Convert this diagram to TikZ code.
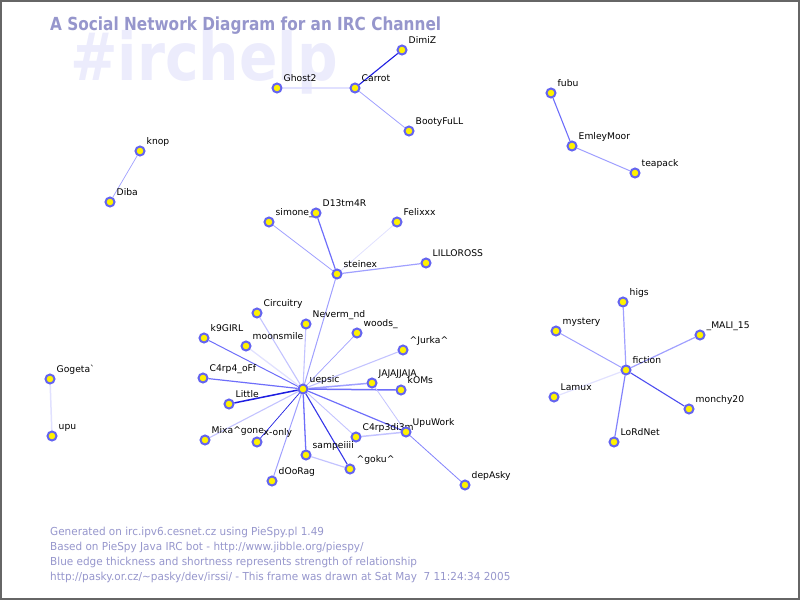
\documentclass[tikz,border=0pt]{standalone}
\usepackage{fontspec}
\setmainfont{DejaVu Sans}
\usetikzlibrary{backgrounds}

\definecolor{titlecol}{RGB}{150,150,204}
\definecolor{watercol}{RGB}{236,236,252}
\definecolor{ringcol}{RGB}{100,100,240}
\definecolor{edgeA}{RGB}{225,225,255}
\definecolor{edgeB}{RGB}{195,195,255}
\definecolor{edgeC}{RGB}{160,160,255}
\definecolor{edgeD}{RGB}{110,110,250}
\definecolor{edgeE}{RGB}{30,30,225}

\begin{document}
\begin{tikzpicture}[x=1pt,y=-1pt,
  nick/.style={circle,fill=yellow,draw=ringcol,line width=2pt,minimum size=9pt,inner sep=0pt},
  lbl/.style={anchor=base west,inner sep=0pt,font=\fontsize{9.2}{10}\selectfont,xshift=2.6pt,yshift=2.6pt},
  faint/.style={draw=edgeA,line width=1.3pt},
  light/.style={draw=edgeB,line width=1.1pt},
  mid/.style={draw=edgeC,line width=1pt},
  strong/.style={draw=edgeD,line width=1.1pt},
  dark/.style={draw=edgeE,line width=1.1pt},
  foot/.style={anchor=base west,inner sep=0pt,text=titlecol}]
  \useasboundingbox (0,0) rectangle (800,600);
  \draw[line width=2pt,black!60] (1,1) rectangle (799,599);

           % headline
           \node[anchor=base west,inner sep=0pt,text=titlecol] (title) at (50,30)
             {\scalebox{0.85}[1]{\fontsize{18}{18}\selectfont\bfseries A Social Network Diagram for an IRC Channel}};

           % nicks, top
           \node[nick,label={[lbl]north east:Ghost2}] (Ghost2) at (277,88) {};
           \node[nick,label={[lbl]north east:Carrot}] (Carrot) at (355,88) {};
           \node[nick,label={[lbl]north east:DimiZ}] (DimiZ) at (402,50) {};
           \node[nick,label={[lbl]north east:BootyFuLL}] (BootyFuLL) at (409,131) {};
           \node[nick,label={[lbl]north east:fubu}] (fubu) at (551,93) {};
           \node[nick,label={[lbl]north east:EmleyMoor}] (EmleyMoor) at (572,146) {};
           \node[nick,label={[lbl]north east:teapack}] (teapack) at (635,173) {};
           \node[nick,label={[lbl]north east:knop}] (knop) at (140,151) {};
           \node[nick,label={[lbl]north east:Diba}] (Diba) at (110,202) {};
           \node[nick,label={[lbl]north east:Gogeta\textasciigrave}] (Gogeta) at (50,379) {};
           \node[nick,label={[lbl]north east:upu}] (upu) at (52,436) {};

           % nicks, middle
           \node[nick,label={[lbl]north east:simone\_}] (simone) at (269,222) {};
           \node[nick,label={[lbl]north east:D13tm4R}] (D13tm4R) at (316,213) {};
           \node[nick,label={[lbl]north east:Felixxx}] (Felixxx) at (397,222) {};
           \node[nick,label={[lbl]north east:LILLOROSS}] (LILLOROSS) at (426,263) {};
           \node[nick,label={[lbl]north east:steinex}] (steinex) at (337,274) {};
           \node[nick,label={[lbl]north east:Circuitry}] (Circuitry) at (257,313) {};
           \node[nick,label={[lbl]north east:Neverm\_nd}] (Nevermnd) at (306,324) {};
           \node[nick,label={[lbl]north east:woods\_}] (woods) at (357,333) {};
           \node[nick,label={[lbl]north east:k9GIRL}] (k9GIRL) at (204,338) {};
           \node[nick,label={[lbl]north east:moonsmile}] (moonsmile) at (246,346) {};
           \node[nick,label={[lbl]north east:\textasciicircum Jurka\textasciicircum}] (Jurka) at (403,350) {};
           \node[nick,label={[lbl]north east:C4rp4\_oFf}] (C4rp4oFf) at (203,378) {};
           \node[nick,label={[lbl]north east:uepsic}] (uepsic) at (303,389) {};
           \node[nick,label={[lbl]north east:JAJAJJAJA}] (JAJA) at (372,383) {};
           \node[nick,label={[lbl]north east:kOMs}] (kOMs) at (401,390) {};
           \node[nick,label={[lbl]north east:Little}] (Little) at (229,404) {};
           \node[nick,label={[lbl]north east:Mixa\textasciicircum gone}] (Mixa) at (205,440) {};
           \node[nick,label={[lbl]north east:x-only}] (xonly) at (257,442) {};
           \node[nick,label={[lbl]north east:C4rp3di3m}] (C4rp3di3m) at (356,437) {};
           \node[nick,label={[lbl]north east:UpuWork}] (UpuWork) at (406,432) {};
           \node[nick,label={[lbl]north east:sampeiiii}] (sampeiiii) at (306,455) {};
           \node[nick,label={[lbl]north east:\textasciicircum goku\textasciicircum}] (goku) at (350,469) {};
           \node[nick,label={[lbl]north east:dOoRag}] (dOoRag) at (272,481) {};
           \node[nick,label={[lbl]north east:depAsky}] (depAsky) at (465,485) {};

           % nicks, right
           \node[nick,label={[lbl]north east:higs}] (higs) at (623,302) {};
           \node[nick,label={[lbl]north east:mystery}] (mystery) at (556,331) {};
           \node[nick,label={[lbl]north east:\_MALI\_15}] (MALI) at (700,335) {};
           \node[nick,label={[lbl]north east:fiction}] (fiction) at (626,370) {};
           \node[nick,label={[lbl]north east:Lamux}] (Lamux) at (554,397) {};
           \node[nick,label={[lbl]north east:monchy20}] (monchy20) at (689,409) {};
           \node[nick,label={[lbl]north east:LoRdNet}] (LoRdNet) at (614,442) {};

           \begin{scope}[on background layer]
             \node[anchor=base west,inner sep=0pt,text=watercol] (channel) at (70,80)
               {\scalebox{0.86}[1]{\fontsize{66}{66}\selectfont\bfseries\#irchelp}};
             \draw[dark] (Carrot) -- (DimiZ);
             \draw[faint,line width=2pt] (Carrot) -- (Ghost2);
             \draw[mid,line width=0.8pt] (Carrot) -- (BootyFuLL);
             \draw[strong] (fubu) -- (EmleyMoor);
             \draw[mid] (EmleyMoor) -- (teapack);
             \draw[mid,line width=0.7pt] (knop) -- (Diba);
             \draw[faint,line width=1.5pt] (Gogeta) -- (upu);
             \draw[mid,line width=0.8pt] (steinex) -- (simone);
             \draw[strong,line width=1.2pt] (steinex) -- (D13tm4R);
             \draw[faint,line width=0.8pt] (steinex) -- (Felixxx);
             \draw[mid,line width=1.2pt] (steinex) -- (LILLOROSS);
             \draw[mid] (steinex) -- (uepsic);
             \draw[light] (uepsic) -- (Circuitry);
             \draw[light] (uepsic) -- (Nevermnd);
             \draw[mid,line width=0.7pt] (uepsic) -- (woods);
             \draw[light] (uepsic) -- (Jurka);
             \draw[strong,line width=1pt] (uepsic) -- (k9GIRL);
             \draw[faint] (uepsic) -- (moonsmile);
             \draw[strong,line width=1.2pt] (uepsic) -- (C4rp4oFf);
             \draw[mid,line width=1.5pt] (uepsic) -- (JAJA);
             \draw[strong,line width=1.5pt] (uepsic) -- (kOMs);
             \draw[dark,line width=1.5pt] (uepsic) -- (Little);
             \draw[light] (uepsic) -- (Mixa);
             \draw[dark,line width=0.7pt] (uepsic) -- (xonly);
             \draw[mid] (uepsic) -- (dOoRag);
             \draw[strong,line width=1.3pt] (uepsic) -- (sampeiiii);
             \draw[strong,draw=edgeE!70!edgeD] (uepsic) -- (goku);
             \draw[light,line width=0.9pt] (uepsic) -- (C4rp3di3m);
             \draw[strong,line width=1.2pt] (uepsic) -- (UpuWork);
             \draw[light,line width=1.5pt] (C4rp3di3m) -- (UpuWork);
             \draw[light,line width=1.2pt] (sampeiiii) -- (goku);
             \draw[light,line width=0.8pt] (JAJA) -- (UpuWork);
             \draw[mid,line width=0.8pt,draw=edgeD!60!edgeC] (UpuWork) -- (depAsky);
             \draw[mid,line width=1.2pt] (fiction) -- (higs);
             \draw[mid] (fiction) -- (mystery);
             \draw[mid,line width=1.2pt] (fiction) -- (MALI);
             \draw[faint,line width=1.2pt] (fiction) -- (Lamux);
             \draw[strong,draw=edgeD!60!edgeE] (fiction) -- (monchy20);
             \draw[strong,line width=1.2pt,draw=edgeD!60!edgeC] (fiction) -- (LoRdNet);
           \end{scope}

           % credits
           \node[foot] (foot1) at (50,535) {\scalebox{0.95}[1]{\fontsize{11}{13}\selectfont Generated on irc.ipv6.cesnet.cz using PieSpy.pl 1.49}};
           \node[foot] (foot2) at (50,550) {\scalebox{0.95}[1]{\fontsize{11}{13}\selectfont Based on PieSpy Java IRC bot - http://www.jibble.org/piespy/}};
           \node[foot] (foot3) at (50,565) {\scalebox{0.95}[1]{\fontsize{11}{13}\selectfont Blue edge thickness and shortness represents strength of relationship}};
           \node[foot] (foot4) at (50,580) {\scalebox{0.95}[1]{\fontsize{11}{13}\selectfont http://pasky.or.cz/\textasciitilde pasky/dev/irssi/ - This frame was drawn at Sat May\ \ 7 11:24:34 2005}};
\end{tikzpicture}
\end{document}
